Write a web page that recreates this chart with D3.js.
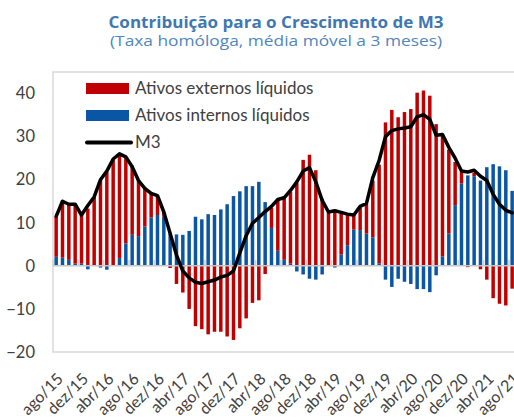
<!DOCTYPE html>
<html>
<head>
<meta charset="utf-8">
<script src="https://cdn.jsdelivr.net/npm/d3@7/dist/d3.min.js"></script>
<style>
  body { margin: 0; background: #fff; }
  text { font-family: Lato, "Noto Sans", sans-serif; }
</style>
</head>
<body>
<div id="container"></div>
<script>
// months from ago/15 to ago/21
const monthNames = ["jan", "fev", "mar", "abr", "mai", "jun", "jul", "ago", "set", "out", "nov", "dez"];
const categories = [];
for (let k = 0; k < 73; k++) {
    const m = (7 + k) % 12, y = 15 + Math.floor((7 + k) / 12);
    categories.push(monthNames[m] + "/" + y);
}

const tickLabels = ["ago/15", "dez/15", "abr/16", "ago/16", "dez/16", "abr/17", "ago/17", "dez/17", "abr/18",
    "ago/18", "dez/18", "abr/19", "ago/19", "dez/19", "abr/20", "ago/20", "dez/20", "abr/21", "ago/21"];

const yTicks = [-20, -10, 0, 10, 20, 30, 40];

// Ativos externos líquidos
const externos = [9.4, 13.3, 12.9, 13.5, 11.3, 13.3, 15.8, 19.8, 21.8, 24.5, 23.8, 19.9, 16.1, 12.9, 8.8, 5.6,
    4.2, 1.0, -0.5, -4.2, -6.2, -10.0, -14.0, -14.7, -15.9, -15.3, -15.3, -16.4, -17.2, -14.5, -12.2, -8.6,
    -8.0, -1.9, 4.7, 11.9, 14.8, 16.7, 19.2, 24.6, 25.8, 22.2, 15.6, 12.5, 12.5, 9.6, 7.2, 3.4,
    5.2, 6.8, 13.2, 22.9, 33.3, 36.2, 34.5, 35.7, 36.4, 40.2, 40.7, 39.5, 32.9, 28.3, 19.5, 10.0,
    2.7, -0.3, 0.8, -0.8, -3.2, -7.5, -8.8, -9.2, -5.3];

// Ativos internos líquidos
const internos = [2.1, 1.9, 1.4, 0.5, 0.5, -0.8, 0.1, -0.4, -0.9, 0.1, 1.8, 5.2, 7.2, 6.9, 9.1, 11.2,
    11.8, 11.4, 7.5, 7.3, 7.2, 8.1, 11.4, 10.8, 12.0, 11.8, 13.1, 14.3, 16.2, 17.3, 18.5, 18.5,
    19.5, 14.8, 8.8, 3.5, 1.4, 0.5, -1.3, -2.0, -3.0, -3.2, -2.0, 0.0, -0.4, 2.6, 4.8, 8.4,
    8.3, 7.5, 6.6, 0.6, -3.2, -4.9, -3.0, -3.7, -4.2, -5.4, -5.4, -6.1, -2.2, 2.2, 7.5, 14.1,
    19.1, 21.0, 20.8, 19.8, 22.9, 23.6, 23.1, 22.2, 17.4];

// M3
const m3 = [11.5, 15.0, 14.3, 14.3, 11.8, 14.0, 16.0, 20.0, 22.0, 24.8, 26.0, 25.3, 23.0, 19.8, 18.0, 16.8,
    16.3, 12.5, 7.5, 2.5, -1.2, -2.8, -3.8, -4.1, -3.7, -3.3, -2.6, -2.2, -1.2, 3.0, 7.0, 9.9,
    11.2, 12.6, 13.8, 15.4, 15.8, 17.5, 19.5, 22.0, 22.8, 19.5, 15.2, 12.5, 12.8, 12.4, 12.0, 11.8,
    13.8, 14.5, 20.5, 24.5, 30.0, 31.4, 31.8, 32.0, 32.3, 34.6, 35.1, 34.0, 30.3, 30.5, 27.5, 25.0,
    22.0, 21.8, 22.2, 20.8, 19.8, 16.6, 14.3, 12.9, 12.3];

const colors = { externos: "#c00000", internos: "#0a56a4" };
const textColor = "#404040";

const W = 514, H = 418;
const plot = { left: 53, top: 72, bottom: 352, step: 6.333 };

const svg = d3.select("#container").append("svg")
    .attr("width", W)
    .attr("height", H)
    .style("display", "block");

svg.append("rect").attr("width", W).attr("height", H).attr("fill", "#fff");

// TITLE
svg.append("text")
    .attr("x", 276).attr("y", 28)
    .attr("text-anchor", "middle")
    .attr("textLength", 335)
    .attr("lengthAdjust", "spacingAndGlyphs")
    .style("font-family", "'Open Sans', sans-serif")
    .style("font-weight", "bold")
    .style("font-size", "15.5px")
    .attr("fill", "#3f78b0")
    .text("Contribuição para o Crescimento de M3");

svg.append("text")
    .attr("x", 276).attr("y", 46)
    .attr("text-anchor", "middle")
    .attr("textLength", 332)
    .attr("lengthAdjust", "spacingAndGlyphs")
    .style("font-family", "'Open Sans', sans-serif")
    .style("font-size", "15px")
    .attr("fill", "#4f86bf")
    .text("(Taxa homóloga, média móvel a 3 meses)");

// SCALES
const plotRight = plot.left + categories.length * plot.step;

const xScale = d3.scaleBand()
    .domain(categories)
    .range([plot.left, plotRight])
    .paddingInner(0.45)
    .paddingOuter(0.225);

const yScale = d3.scaleLinear()
    .domain([-20, 45])
    .range([plot.bottom, plot.top]);

// plot frame
svg.append("rect")
    .attr("x", plot.left).attr("y", plot.top)
    .attr("width", plotRight - plot.left)
    .attr("height", plot.bottom - plot.top)
    .attr("fill", "none")
    .attr("stroke", "#d9d9d9")
    .attr("stroke-width", 1.5);

// y axis labels
const yAxis = svg.append("g")
    .attr("transform", "translate(" + (plot.left - 18) + ",0)")
    .call(d3.axisLeft(yScale).tickValues(yTicks).tickSize(0).tickPadding(0));
yAxis.select(".domain").remove();
yAxis.selectAll("text")
    .style("font-family", "Lato, sans-serif")
    .style("font-size", "16.5px")
    .attr("fill", textColor);

// BARS (stacked, diverging)
const table = categories.map((c, i) => ({ cat: c, internos: internos[i], externos: externos[i] }));
const series = d3.stack()
    .keys(["internos", "externos"])
    .offset(d3.stackOffsetDiverging)(table);

svg.append("g")
    .selectAll("g")
    .data(series)
    .join("g")
    .attr("fill", d => colors[d.key])
    .selectAll("rect")
    .data(d => d)
    .join("rect")
    .attr("x", d => xScale(d.data.cat))
    .attr("width", xScale.bandwidth())
    .attr("y", d => yScale(Math.max(d[0], d[1])))
    .attr("height", d => Math.abs(yScale(d[0]) - yScale(d[1])));

// zero line with small ticks
const y0 = yScale(0);
svg.append("line")
    .attr("x1", plot.left).attr("x2", plotRight)
    .attr("y1", y0).attr("y2", y0)
    .attr("stroke", "#c6c6c6")
    .attr("stroke-width", 1.5);

svg.append("g")
    .selectAll("line")
    .data(tickLabels)
    .join("line")
    .attr("x1", d => xScale(d) - xScale.step() * xScale.paddingInner() / 2)
    .attr("x2", d => xScale(d) - xScale.step() * xScale.paddingInner() / 2)
    .attr("y1", y0 - 6).attr("y2", y0)
    .attr("stroke", "#d0d0d0")
    .attr("stroke-width", 1.5);

// x labels
const xAxis = svg.append("g")
    .attr("transform", "translate(0," + (plot.bottom + 20) + ")")
    .call(d3.axisBottom(xScale).tickValues(tickLabels).tickSize(0).tickPadding(0));
xAxis.select(".domain").remove();
xAxis.selectAll("text")
    .attr("y", 0).attr("dy", "0.7em")
    .attr("x", 0)
    .attr("transform", "rotate(-45)")
    .style("text-anchor", "end")
    .style("font-family", "Lato, sans-serif")
    .style("font-size", "16px")
    .attr("fill", textColor);

// M3 LINE
const line = d3.line()
    .x((d, i) => xScale(categories[i]) + xScale.bandwidth() / 2)
    .y(d => yScale(d));

svg.append("path")
    .attr("fill", "none")
    .attr("stroke", "#000")
    .attr("stroke-width", 3.5)
    .attr("stroke-linejoin", "round")
    .attr("stroke-linecap", "round")
    .attr("d", line(m3));

// LEGEND
const legendItems = [
    { label: "Ativos externos líquidos", type: "bar", color: colors.externos },
    { label: "Ativos internos líquidos", type: "bar", color: colors.internos },
    { label: "M3", type: "line", color: "#000" }
];

const legend = svg.append("g").attr("transform", "translate(86,88.5)");
legendItems.forEach((d, i) => {
    const g = legend.append("g").attr("transform", "translate(0," + i * 27 + ")");
    if (d.type == "bar") {
        g.append("rect")
            .attr("x", 0).attr("y", -5.5)
            .attr("width", 43).attr("height", 11)
            .attr("fill", d.color);
    } else {
        g.append("line")
            .attr("x1", 1).attr("x2", 45)
            .attr("y1", 0).attr("y2", 0)
            .attr("stroke", d.color)
            .attr("stroke-width", 4)
            .attr("stroke-linecap", "round");
    }
    g.append("text")
        .attr("x", 49).attr("y", 0)
        .attr("dy", "0.35em")
        .style("font-size", "17px")
        .attr("fill", textColor)
        .text(d.label);
});
</script>
</body>
</html>
